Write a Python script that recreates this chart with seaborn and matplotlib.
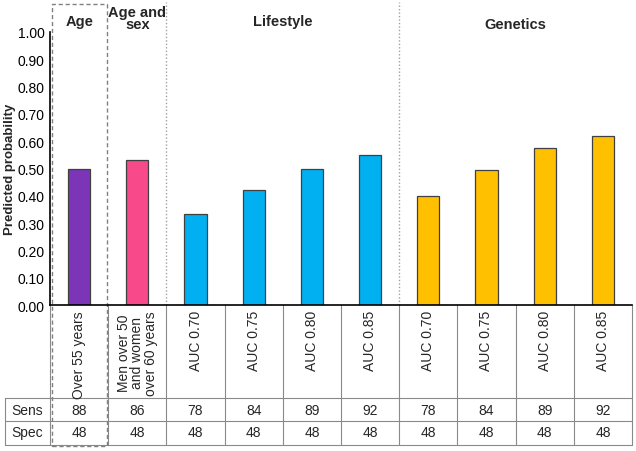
import matplotlib
matplotlib.use("Agg")
import matplotlib.pyplot as plt
import matplotlib.transforms as mtrans
import seaborn as sns
import pandas as pd

# ---- data ----
groups = ["Age", "Age and\nsex", "Lifestyle", "Genetics"]
group_of_bar = ["Age", "Age and\nsex", "Lifestyle", "Lifestyle", "Lifestyle", "Lifestyle",
                "Genetics", "Genetics", "Genetics", "Genetics"]
bar_labels = ["Over 55 years", "Men over 50\nand women\nover 60 years",
              "AUC 0.70", "AUC 0.75", "AUC 0.80", "AUC 0.85",
              "AUC 0.70", "AUC 0.75", "AUC 0.80", "AUC 0.85"]
probabilities = [0.50, 0.53, 0.335, 0.42, 0.50, 0.55, 0.40, 0.495, 0.575, 0.62]
sensitivity = [88, 86, 78, 84, 89, 92, 78, 84, 89, 92]
specificity = [48, 48, 48, 48, 48, 48, 48, 48, 48, 48]
y_ticks = [0.0, 0.1, 0.2, 0.3, 0.4, 0.5, 0.6, 0.7, 0.8, 0.9, 1.0]
group_colors = {"Age": "#7D35B7", "Age and\nsex": "#F8498B",
                "Lifestyle": "#00B0F0", "Genetics": "#FFC000"}

keys = [f"b{i}" for i in range(len(probabilities))]
df = pd.DataFrame({"key": keys, "prob": probabilities, "group": group_of_bar})
palette = {k: group_colors[g] for k, g in zip(keys, group_of_bar)}

sns.set_theme(style="white")
plt.rcParams["font.family"] = ["Liberation Sans", "DejaVu Sans"]

FS = 10
fig = plt.figure(figsize=(6.36, 4.52), dpi=100)
W, H = 636, 452
ax_l, ax_r, ax_t, ax_b = 50, 632, 33, 306
ax = fig.add_axes([ax_l / W, 1 - ax_b / H, (ax_r - ax_l) / W, (ax_b - ax_t) / H])

sns.barplot(data=df, x="key", y="prob", hue="key", palette=palette, order=keys,
            width=0.38, dodge=False, legend=False, edgecolor="#404040",
            linewidth=0.9, ax=ax, saturation=1)

ax.set_xlim(-0.5, len(keys) - 0.5)
ax.set_ylim(0, 1.0)
ax.set_yticks(y_ticks)
ax.set_yticklabels([f"{v:.2f}" for v in y_ticks])
ax.tick_params(axis="y", length=0, pad=4, labelsize=FS, colors="black")
ax.set_xticks([])
ax.set_xlabel("")
ax.set_ylabel("Predicted probability", fontsize=9.5, fontweight="bold")
ax.yaxis.set_label_coords((16 - ax_l) / (ax_r - ax_l), 0.5)
for s in ["top", "right"]:
    ax.spines[s].set_visible(False)
ax.spines["left"].set_color("black")
ax.spines["left"].set_linewidth(1.2)
ax.spines["bottom"].set_color("black")
ax.spines["bottom"].set_linewidth(1.2)

# helpers for pixel-based layout
def ya(py):
    return (ax_b - py) / (ax_b - ax_t)

def xa(px):
    return (px - ax_l) / (ax_r - ax_l)

blend = mtrans.blended_transform_factory(ax.transData, ax.transAxes)
tA = ax.transAxes
grid_c = "#8a8a8a"

# table geometry
y_lab_bot = ya(399)
y_mid = ya(422)
y_bot = ya(446)

n = len(keys)
for b in range(n + 1):
    xb = b - 0.5
    ax.plot([xb, xb], [0, y_bot], transform=blend, color=grid_c, lw=0.8, clip_on=False)
for yy in [y_lab_bot, y_mid, y_bot]:
    ax.plot([xa(5), 1.0], [yy, yy], transform=tA, color=grid_c, lw=0.8, clip_on=False)
ax.plot([xa(5), xa(5)], [y_lab_bot, y_bot], transform=tA, color=grid_c, lw=0.8, clip_on=False)

ax.text(xa(27.5), ya(411), "Sens", transform=tA, ha="center", va="center", fontsize=FS)
ax.text(xa(27.5), ya(433), "Spec", transform=tA, ha="center", va="center", fontsize=FS)
for i in range(n):
    ax.text(i, ya(411), str(sensitivity[i]), transform=blend, ha="center", va="center", fontsize=FS)
    ax.text(i, ya(433), str(specificity[i]), transform=blend, ha="center", va="center", fontsize=FS)
    ax.text(i, ya(311), bar_labels[i], transform=blend, rotation=90, ha="center", va="top",
            fontsize=FS, multialignment="center", linespacing=0.97)

for xb in [1.5, 5.5]:
    ax.plot([xb, xb], [0, ya(3)], transform=blend, color="#a0a0a0", lw=1.0,
            linestyle=(0, (1, 1.5)), clip_on=False)
xl, xr = -0.5 + (52 - 50) / 58.2, 0.5 - 1.5 / 58.2
yt, ybb = ya(5), ya(447)
ax.plot([xl, xr, xr, xl, xl], [ybb, ybb, yt, yt, ybb], transform=blend, color="#808080",
        lw=1.0, linestyle=(0, (3, 2)), clip_on=False)

HF = 10.5
ax.text(0, ya(22), groups[0], transform=blend, ha="center", va="center",
        fontsize=HF, fontweight="bold")
ax.text(1, ya(19), groups[1], transform=blend, ha="center", va="center",
        fontsize=HF, fontweight="bold", linespacing=0.85)
ax.text(3.5, ya(22), groups[2], transform=blend, ha="center", va="center",
        fontsize=HF, fontweight="bold")
ax.text(7.5, ya(25), groups[3], transform=blend, ha="center", va="center",
        fontsize=HF, fontweight="bold")

fig.savefig("out.png", dpi=100)
